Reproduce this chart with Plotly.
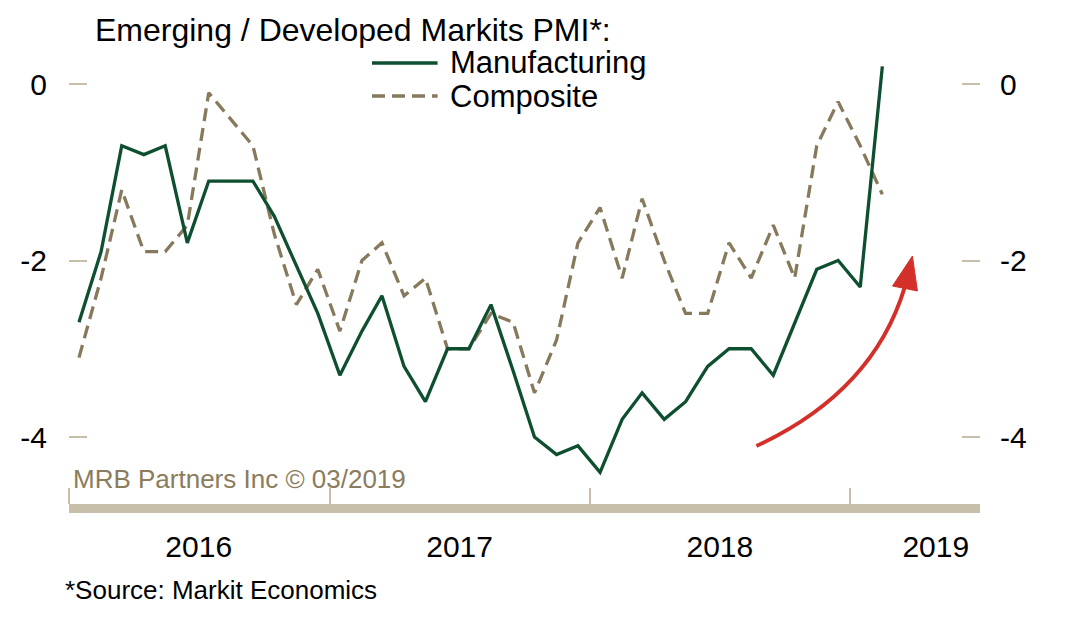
import pandas as pd
import plotly.graph_objects as go

# monthly readings, Jan 2016 - Feb 2019 (plotted mid-month)
months = pd.date_range("2016-01-01", periods=38, freq="MS") + pd.Timedelta(days=14)

manufacturing = [-2.7, -1.9, -0.7, -0.8, -0.7, -1.8, -1.1, -1.1, -1.1, -1.5,
                 -2.05, -2.6, -3.3, -2.8, -2.4, -3.2, -3.6, -3.0, -3.0, -2.5,
                 -3.25, -4.0, -4.2, -4.1, -4.4, -3.8, -3.5, -3.8, -3.6, -3.2,
                 -3.0, -3.0, -3.3, -2.7, -2.1, -2.0, -2.3, 0.2]
composite = [-3.1, -2.2, -1.2, -1.9, -1.9, -1.6, -0.1, -0.4, -0.7, -1.7,
             -2.5, -2.1, -2.8, -2.0, -1.8, -2.4, -2.2, -3.0, -3.0, -2.6,
             -2.7, -3.5, -2.9, -1.8, -1.4, -2.2, -1.3, -2.0, -2.6, -2.6,
             -1.8, -2.2, -1.6, -2.2, -0.7, -0.2, -0.7, -1.25]

y_ticks = [0, -2, -4]
y_labels = ["0", "-2", "-4"]
year_starts = ["2016-01-01", "2017-01-01", "2018-01-01", "2019-01-01"]
year_mids = ["2016-07-01", "2017-07-02", "2018-07-02", "2019-05-01"]
year_labels = ["2016", "2017", "2018", "2019"]

GREEN = "#0d4f2f"
KHAKI = "#877a5c"
BEIGE = "#c8bfaa"
RED = "#d3302a"
FONT = "Liberation Sans, Arial, sans-serif"
DASH = "13px,7px"

# page has an 8px body margin, so the figure is made 8px smaller
W, H, OFF = 1072, 625, 8
# plot area in page pixels (for placing decorations)
L, R, T, B = 63, 980, 40, 504


def px(x, y):
    return (x - L) / (R - L), (B - y) / (B - T)


def path(points, cmd):
    out = []
    for c, (x, y) in zip(cmd, points):
        u, v = px(x, y)
        out.append(f"{c}{u:.4f},{v:.4f}")
    return " ".join(out)


yrange = [(84 - B) / 88.25, (84 - T) / 88.25]
ytick_style = dict(range=yrange, showgrid=False, zeroline=False, showline=False,
                   tickmode="array", tickvals=y_ticks, ticktext=y_labels,
                   ticks="inside", ticklen=18, tickwidth=2, tickcolor=BEIGE,
                   tickfont=dict(size=30, color="black"), ticklabelstandoff=19)

fig = go.Figure()
fig.add_trace(go.Scatter(x=months, y=composite, mode="lines", name="Composite",
                         line=dict(color=KHAKI, width=3.3, dash=DASH)))
fig.add_trace(go.Scatter(x=months, y=manufacturing, mode="lines", name="Manufacturing",
                         line=dict(color=GREEN, width=3.3), yaxis="y2"))

fig.update_layout(
    width=W, height=H,
    margin=dict(l=L - OFF, r=W - (R - OFF), t=T - OFF, b=H - (B - OFF)),
    paper_bgcolor="white", plot_bgcolor="white",
    showlegend=False,
    font=dict(family=FONT, color="black"),
    xaxis=dict(range=["2016-01-01", "2019-07-02"], showgrid=False, zeroline=False,
               showline=True, linewidth=9, linecolor=BEIGE,
               tickmode="array", tickvals=year_mids, ticktext=year_labels, ticks="",
               tickfont=dict(size=30, color="black"), ticklabelstandoff=8,
               minor=dict(tickmode="array", tickvals=year_starts, ticks="inside",
                          ticklen=16, tickwidth=2, tickcolor=BEIGE, showgrid=False)),
    yaxis=dict(ytick_style, ticklabelstandoff=21),
    yaxis2=dict(ytick_style, overlaying="y", side="right"),
)

# legend drawn by hand so the line samples match the original length
x0, _ = px(368, 0)
x1, _ = px(434, 0)
xt, _ = px(444, 0)
for label, ypix, color, dash in [("Manufacturing", 63, GREEN, "solid"),
                                 ("Composite", 96, KHAKI, DASH)]:
    _, yy = px(0, ypix)
    fig.add_shape(type="line", xref="paper", yref="paper", x0=x0, x1=x1, y0=yy, y1=yy,
                  line=dict(color=color, width=3.3, dash=dash))
    fig.add_annotation(text=label, xref="paper", yref="paper", x=xt, y=yy,
                       xanchor="left", yanchor="middle", showarrow=False,
                       font=dict(size=31, color="black"))

tx, ty = px(87, 30)
fig.add_annotation(text="Emerging / Developed Markits PMI*:", xref="paper", yref="paper",
                   x=tx, y=ty, xanchor="left", yanchor="middle", showarrow=False,
                   font=dict(size=32, color="black"))

mx, my = px(65, 479)
fig.add_annotation(text="MRB Partners Inc © 03/2019", xref="paper", yref="paper",
                   x=mx, y=my, xanchor="left", yanchor="middle", showarrow=False,
                   font=dict(size=26, color="#8a7c5c"))

sx, sy = px(57, 590)
fig.add_annotation(text="*Source: Markit Economics", xref="paper", yref="paper",
                   x=sx, y=sy, xanchor="left", yanchor="middle", showarrow=False,
                   font=dict(size=26, color="black"))

# red curved arrow
fig.add_shape(type="path", xref="paper", yref="paper",
              path=path([(755, 446), (872, 392), (904, 288)], ["M", "Q", " "]),
              line=dict(color=RED, width=4))
fig.add_shape(type="path", xref="paper", yref="paper",
              path=path([(892, 286), (917, 291), (912, 256)], ["M", "L", "L"]) + " Z",
              fillcolor=RED, line=dict(color=RED, width=1))

fig.write_html("out.html")
